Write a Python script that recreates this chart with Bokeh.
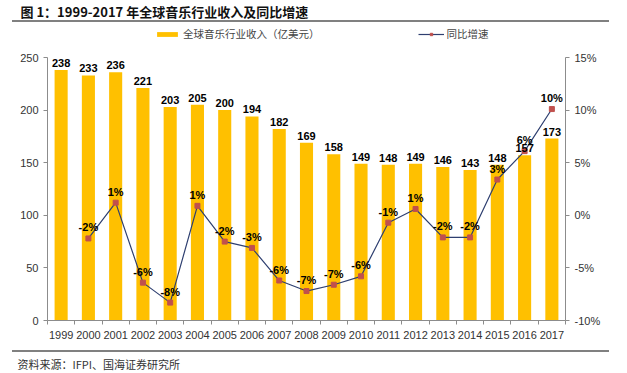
from bokeh.plotting import figure
from bokeh.layouts import column
from bokeh.models import (Range1d, LinearAxis, FixedTicker, PrintfTickFormatter, Label,
                          Legend, ColumnDataSource, LabelSet, Div)
from bokeh.core.properties import value
from bokeh.embed import file_html
from bokeh.resources import INLINE

years = ["1999", "2000", "2001", "2002", "2003", "2004", "2005", "2006", "2007", "2008",
         "2009", "2010", "2011", "2012", "2013", "2014", "2015", "2016", "2017"]
revenue = [238, 233, 236, 221, 203, 205, 200, 194, 182, 169, 158, 149, 148, 149, 146, 143, 148, 157, 173]
growth_years = years[1:]
growth = [-2.2, 1.2, -6.4, -8.3, 0.9, -2.5, -3.1, -6.2, -7.2, -6.6, -5.8, -0.7, 0.6, -2.1, -2.1, 3.4, 6.1, 10.1]
growth_labels = ["-2%", "1%", "-6%", "-8%", "1%", "-2%", "-3%", "-6%", "-7%", "-7%", "-6%",
                 "-1%", "1%", "-2%", "-2%", "3%", "6%", "10%"]
left_ticks = [0, 50, 100, 150, 200, 250]
right_ticks = [-10, -5, 0, 5, 10, 15]

title_text = "图 1：1999-2017 年全球音乐行业收入及同比增速"
source_text = "资料来源：IFPI、国海证券研究所"
bar_name = "全球音乐行业收入（亿美元）"
line_name = "同比增速"

FONT = "Liberation Sans"
CJK = "Noto Sans CJK SC"
RULE = "#808080"
AX = "#8C8C8C"

# ---- layout (pixels, page coordinates) ----
W = 627
TITLE_H, RULE_H = 20, 2
HEAD_H = TITLE_H + RULE_H            # main figure starts here
MAIN_BOTTOM = 350                    # lower rule starts here
SRC_H = 373 - MAIN_BOTTOM - RULE_H
MAIN_H = MAIN_BOTTOM - HEAD_H
RULE_L, RULE_R = 12, 609
FRAME_LEFT, FRAME_RIGHT = 47, 565
AXIS_TOP, FRAME_BOTTOM = 57 - HEAD_H, 320 - HEAD_H      # within main figure
FRAME_TOP = 0
axis_px = FRAME_BOTTOM - AXIS_TOP
extra_px = AXIS_TOP - FRAME_TOP
lmin, lmax = left_ticks[0], left_ticks[-1]
rmin, rmax = right_ticks[0], right_ticks[-1]
l_end = lmax + extra_px * (lmax - lmin) / axis_px
r_end = rmax + extra_px * (rmax - rmin) / axis_px


def deco_fig(h):
    f = figure(width=W, height=h, output_backend="svg", toolbar_location=None, title=None,
               x_axis_location=None, y_axis_location=None,
               x_range=Range1d(0, 1), y_range=Range1d(0, 1),
               min_border_left=RULE_L, min_border_right=W - RULE_R,
               min_border_top=0, min_border_bottom=0)
    f.frame_align = False
    f.outline_line_color = None
    f.xgrid.visible = False
    f.ygrid.visible = False
    return f


def rule_div():
    return Div(text="", width=RULE_R - RULE_L, height=RULE_H, margin=(0, 0, 0, RULE_L),
               styles={"background-color": RULE, "overflow": "hidden"})


# ---- header: title + rule ----
head = deco_fig(TITLE_H)
head.add_layout(Label(x=20 - RULE_L, y=TITLE_H - 11, x_units="screen", y_units="screen",
                      text=title_text, text_font=CJK, text_font_size="13px",
                      text_font_style="bold", text_baseline="middle", text_color="#111111"))
rule_top = rule_div()

# ---- main chart ----
xs = list(range(len(years)))
gx = [years.index(y) for y in growth_years]

p = figure(width=W, height=MAIN_H, output_backend="svg", toolbar_location=None, title=None,
           x_range=Range1d(-0.5, len(years) - 0.5), y_range=Range1d(lmin, l_end),
           min_border_left=FRAME_LEFT, min_border_right=W - FRAME_RIGHT,
           min_border_top=FRAME_TOP, min_border_bottom=MAIN_H - FRAME_BOTTOM)
p.frame_align = False
p.outline_line_color = None
p.xgrid.visible = False
p.ygrid.visible = False
p.extra_y_ranges = {"pct": Range1d(rmin, r_end)}

bsrc = ColumnDataSource(dict(x=xs, top=revenue, lab=[str(v) for v in revenue]))
bars = p.vbar(x="x", top="top", width=0.48, source=bsrc, fill_color="#FFC000", line_color=None)

lsrc = ColumnDataSource(dict(x=gx, y=growth, lab=growth_labels))
ln = p.line(x="x", y="y", source=lsrc, y_range_name="pct", line_color="#2E3F70", line_width=1.2)
mk = p.scatter(x="x", y="y", source=lsrc, y_range_name="pct", marker="square", size=5,
               fill_color="#C0504D", line_color="#C0504D")

p.add_layout(LabelSet(x="x", y="top", text="lab", source=bsrc, text_align="center",
                      text_baseline="bottom", y_offset=3, text_font=value(FONT),
                      text_font_size="11px", text_font_style="bold", text_color="black"))
p.add_layout(LabelSet(x="x", y="y", text="lab", source=lsrc, y_range_name="pct",
                      text_align="center", text_baseline="bottom", y_offset=5,
                      text_font=value(FONT), text_font_size="11px", text_font_style="bold",
                      text_color="black"))

xa = p.xaxis[0]
xa.ticker = FixedTicker(ticks=xs, minor_ticks=[i - 0.5 for i in range(len(years) + 1)])
xa.major_label_overrides = {i: y for i, y in enumerate(years)}
xa.major_tick_line_color = None
xa.major_tick_in = 0
xa.major_tick_out = 0
xa.minor_tick_in = 0
xa.minor_tick_out = 4
xa.minor_tick_line_color = AX
xa.axis_line_color = AX
xa.major_label_text_font = FONT
xa.major_label_text_font_size = "11px"
xa.major_label_text_color = "#333333"
xa.major_label_standoff = 6

ya = p.yaxis[0]
ya.ticker = FixedTicker(ticks=left_ticks)
ya.bounds = (lmin, lmax)
ya.minor_tick_line_color = None
ya.major_tick_in = 0
ya.major_tick_out = 4
ya.axis_line_color = AX
ya.major_tick_line_color = AX
ya.major_label_text_font = FONT
ya.major_label_text_font_size = "11px"
ya.major_label_text_color = "#333333"

ra = LinearAxis(y_range_name="pct", ticker=FixedTicker(ticks=right_ticks),
                formatter=PrintfTickFormatter(format="%d%%"), bounds=(rmin, rmax))
ra.minor_tick_line_color = None
ra.major_tick_in = 0
ra.major_tick_out = 4
ra.axis_line_color = AX
ra.major_tick_line_color = AX
ra.major_label_text_font = FONT
ra.major_label_text_font_size = "11px"
ra.major_label_text_color = "#333333"
p.add_layout(ra, "right")

legend = Legend(items=[(bar_name, [bars]), (line_name, [ln, mk])], orientation="horizontal",
                location=(154 - FRAME_LEFT, FRAME_BOTTOM - (41 - HEAD_H)), spacing=98,
                glyph_width=26, glyph_height=6, label_text_font=CJK,
                label_text_font_size="10.5px", label_standoff=3, label_height=12,
                border_line_color=None, background_fill_alpha=0, padding=0, margin=0)
p.add_layout(legend, "center")

# ---- footer: rule + source ----
rule_bottom = rule_div()
foot = deco_fig(SRC_H)
foot.add_layout(Label(x=17 - RULE_L, y=SRC_H - (363 - MAIN_BOTTOM - RULE_H), x_units="screen",
                      y_units="screen", text=source_text, text_font=CJK,
                      text_font_size="11px", text_baseline="middle", text_color="#333333"))

layout = column(head, rule_top, p, rule_bottom, foot, spacing=0)
open("out.html", "w").write(file_html(layout, INLINE))
